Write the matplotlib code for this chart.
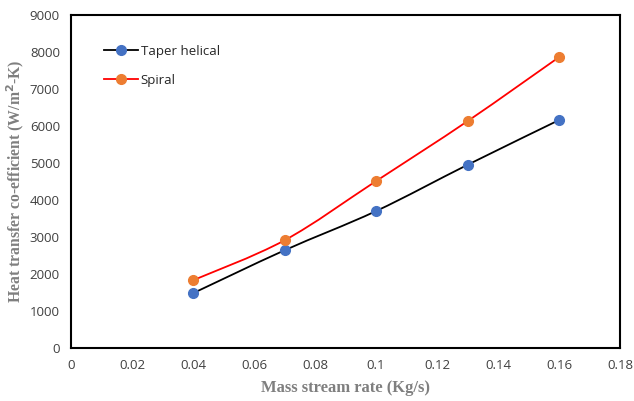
import numpy as np
import matplotlib
matplotlib.use("Agg")
import matplotlib.pyplot as plt
from matplotlib.path import Path
from matplotlib.patches import PathPatch

mass_rate = [0.04, 0.07, 0.10, 0.13, 0.16]
taper_helical = [1480, 2640, 3700, 4950, 6160]
spiral = [1830, 2910, 4510, 6130, 7860]
series_names = ["Taper helical", "Spiral"]
xticks = [0, 0.02, 0.04, 0.06, 0.08, 0.1, 0.12, 0.14, 0.16, 0.18]
xticklabels = ["0", "0.02", "0.04", "0.06", "0.08", "0.1", "0.12", "0.14", "0.16", "0.18"]
yticks = list(range(0, 9001, 1000))

def smooth_path(ax, xs, ys, color, lw):
    # Excel-like smoothed line: cubic Bezier with Catmull-Rom tangents
    xs = np.asarray(xs, float); ys = np.asarray(ys, float)
    verts = [(xs[0], ys[0])]
    codes = [Path.MOVETO]
    n = len(xs)
    t = 1.0 / 6.0
    for i in range(n - 1):
        p0 = (xs[i - 1], ys[i - 1]) if i > 0 else (xs[i], ys[i])
        p1 = (xs[i], ys[i]); p2 = (xs[i + 1], ys[i + 1])
        p3 = (xs[i + 2], ys[i + 2]) if i + 2 < n else p2
        c1 = (p1[0] + (p2[0] - p0[0]) * t, p1[1] + (p2[1] - p0[1]) * t)
        c2 = (p2[0] - (p3[0] - p1[0]) * t, p2[1] - (p3[1] - p1[1]) * t)
        verts += [c1, c2, p2]
        codes += [Path.CURVE4] * 3
    ax.add_patch(PathPatch(Path(verts, codes), fill=False, edgecolor=color, lw=lw, zorder=2))

fig = plt.figure(figsize=(6.34, 4.01), dpi=100)
ax = fig.add_axes([71 / 634, 1 - 348 / 401, (620 - 71) / 634, (348 - 15) / 401])

smooth_path(ax, mass_rate, taper_helical, "black", 1.3)
smooth_path(ax, mass_rate, spiral, "#FF0000", 1.3)
ax.plot(mass_rate, taper_helical, "o", color="#4472C4", ms=7, zorder=3)
ax.plot(mass_rate, spiral, "o", color="#ED7D31", ms=7, zorder=3)

# legend handles
ax.plot([], [], "-o", color="black", mfc="#4472C4", mec="#4472C4", ms=7, lw=1.3, label=series_names[0])
ax.plot([], [], "-o", color="#FF0000", mfc="#ED7D31", mec="#ED7D31", ms=7, lw=1.3, label=series_names[1])
leg = ax.legend(loc="upper left", bbox_to_anchor=(0.045, 0.935), frameon=False,
                prop={"family": "Open Sans", "size": 9.5}, handlelength=2.6,
                handletextpad=0.2, labelspacing=1.25, borderaxespad=0.2)
for t in leg.get_texts():
    t.set_color("#262626")

ax.set_xlim(0, 0.18)
ax.set_ylim(0, 9000)
ax.set_xticks(xticks)
ax.set_xticklabels(xticklabels)
ax.set_yticks(yticks)
ax.tick_params(length=0, pad=8, labelsize=9.5, labelcolor="#404040")
for lab in ax.get_xticklabels() + ax.get_yticklabels():
    lab.set_family("Open Sans")
for s in ax.spines.values():
    s.set_linewidth(1.5)
    s.set_color("black")

ax.set_xlabel("Mass stream rate (Kg/s)", family="Liberation Serif", fontweight="bold",
              fontsize=12, color="#7F7F7F", labelpad=6)
ax.set_ylabel("Heat transfer co-efficient (W/m$^{\\mathbf{2}}$-K)", family="Liberation Serif",
              fontweight="bold", fontsize=11.3, color="#7F7F7F", labelpad=3)

fig.savefig("out.png", dpi=100)
